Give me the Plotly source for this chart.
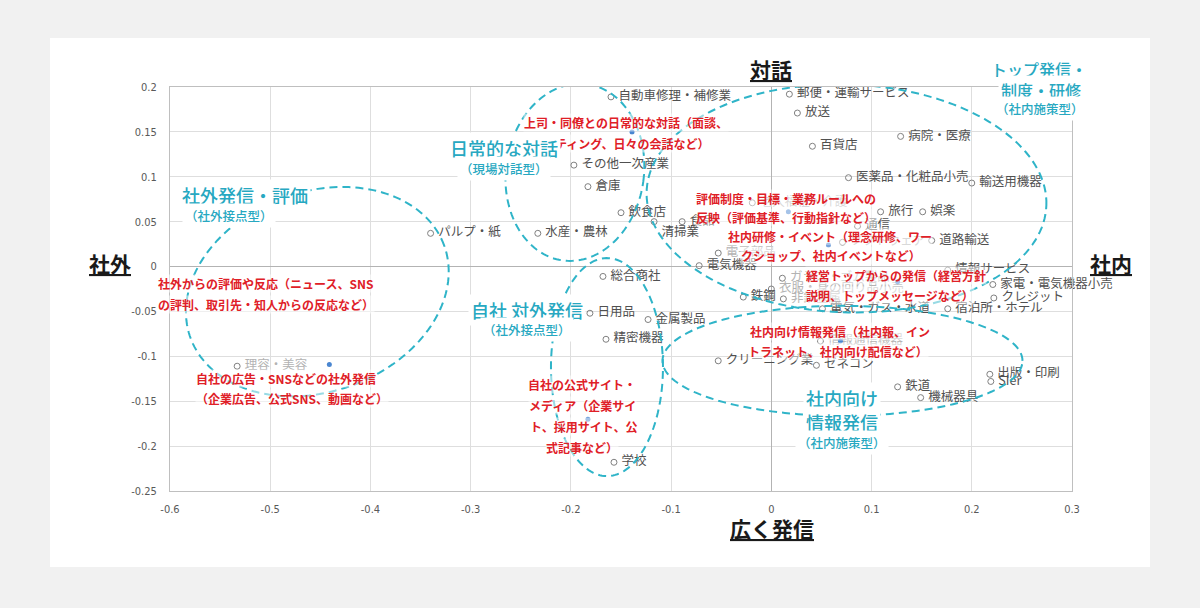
import numpy as np
import plotly.graph_objects as go

# ---------------- data ----------------
ind_names = [
    "自動車修理・補修業", "郵便・運輸サービス", "放送", "病院・医療", "百貨店",
    "その他一次産業", "医薬品・化粧品小売", "輸送用機器", "倉庫", "老人福祉・介護",
    "旅行", "娯楽", "飲食店", "清掃業", "食品", "通信", "パルプ・紙", "水産・農林",
    "道路輸送", "ソフトウェア", "電子部品", "電気機器", "情報サービス", "ガラス・ゴム製品",
    "総合商社", "家電・電気機器小売", "衣服・身の回り品小売", "鉄鋼", "非鉄金属", "クレジット",
    "電気・ガス・水道", "宿泊所・ホテル", "日用品", "金属製品", "精密機器", "情報通信機器",
    "クリーニング業", "ゼネコン", "理容・美容", "出版・印刷", "SIer", "鉄道", "機械器具", "学校",
]
ind_x = [
    -0.160, 0.018, 0.026, 0.129, 0.041,
    -0.197, 0.077, 0.200, -0.183, -0.019,
    0.109, 0.151, -0.150, -0.117, -0.089, 0.086, -0.340, -0.233,
    0.160, 0.071, -0.053, -0.072, 0.176, 0.011,
    -0.168, 0.221, 0.000, -0.028, 0.012, 0.222,
    0.051, 0.176, -0.181, -0.123, -0.165, 0.049,
    -0.053, 0.045, -0.533, 0.218, 0.219, 0.126, 0.149, -0.157,
]
ind_y = [
    0.189, 0.192, 0.171, 0.145, 0.134,
    0.113, 0.099, 0.093, 0.089, 0.071,
    0.061, 0.061, 0.060, 0.050, 0.050, 0.045, 0.037, 0.037,
    0.029, 0.027, 0.015, 0.001, -0.004, -0.013,
    -0.011, -0.020, -0.025, -0.034, -0.036, -0.035,
    -0.047, -0.047, -0.052, -0.059, -0.081, -0.083,
    -0.105, -0.110, -0.111, -0.120, -0.128, -0.134, -0.146, -0.218,
]
faint_names = ["老人福祉・介護", "ソフトウェア", "電子部品", "ガラス・ゴム製品",
               "衣服・身の回り品小売", "非鉄金属", "情報通信機器", "理容・美容"]

act_names = ["上司・同僚との日常的な対話", "評価制度・目標・業務ルール", "社内研修・イベント",
             "経営トップからの発信", "社内向け情報発信", "自社の広告・SNS", "自社の公式サイト・メディア"]
act_x = [-0.139, 0.017, 0.057, 0.126, 0.069, -0.441, -0.183]
act_y = [0.150, 0.061, 0.024, -0.017, -0.083, -0.109, -0.170]

x_ticks = [-0.6, -0.5, -0.4, -0.3, -0.2, -0.1, 0, 0.1, 0.2, 0.3]
x_ticktext = ["-0.6", "-0.5", "-0.4", "-0.3", "-0.2", "-0.1", "0", "0.1", "0.2", "0.3"]
y_ticks = [-0.25, -0.2, -0.15, -0.1, -0.05, 0, 0.05, 0.1, 0.15, 0.2]
y_ticktext = ["-0.25", "-0.2", "-0.15", "-0.1", "-0.05", "0", "0.05", "0.1", "0.15", "0.2"]

# ---------------- layout geometry ----------------
W, H = 1200, 608
ML, MR, MT, MB = 170, 128, 87, 117
PW, PH = W - ML - MR, H - MT - MB
XR = [-0.6, 0.3]
YR = [-0.25, 0.2]
SX = (XR[1] - XR[0]) / PW
SY = (YR[1] - YR[0]) / PH

JP = "Noto Sans CJK JP, Noto Sans, sans-serif"
TEAL = "#27a8c1"
ELL = "#2fb4c8"
RED = "#df2027"


def P(px, py):
    return (px - ML) / PW, (H - MB - py) / PH


def ellipse_path(cx, cy, a, b, theta):
    t = np.linspace(0, 2 * np.pi, 160)
    th = np.radians(theta)
    dx = a * np.cos(t) * np.cos(th) - b * np.sin(t) * np.sin(th)
    dy = a * np.cos(t) * np.sin(th) + b * np.sin(t) * np.cos(th)
    xs = cx + dx * SX
    ys = cy + dy * SY
    pts = [f"{x:.5f},{y:.5f}" for x, y in zip(xs, ys)]
    return "M" + " L".join(pts) + " Z"


fig = go.Figure()

text_colors = ["#b3b3b3" if n in faint_names else "#505050" for n in ind_names]
text_pos = ["bottom right" if n == "清掃業" else "middle right" for n in ind_names]

fig.add_trace(go.Scatter(
    x=ind_x, y=ind_y, mode="markers+text", text=ind_names,
    texttemplate="\u00a0%{text}",
    textposition=text_pos,
    textfont=dict(family=JP, size=12.5, color=text_colors),
    marker=dict(symbol="circle-open", size=6, color="#808080", line=dict(width=1)),
    cliponaxis=False, hoverinfo="skip", showlegend=False,
))
fig.add_trace(go.Scatter(
    x=act_x, y=act_y, mode="markers", text=act_names,
    marker=dict(symbol="circle", size=5, color="#4a86d0"),
    cliponaxis=False, hoverinfo="skip", showlegend=False,
))

shapes = []
cx0, cy0 = P(50, 567)
cx1, cy1 = P(1150, 38)
shapes.append(dict(type="rect", xref="paper", yref="paper", x0=cx0, x1=cx1, y0=cy0, y1=cy1,
                   fillcolor="white", line=dict(width=0), layer="below"))

ellipses = [
    (-0.453, -0.028, 135, 100, 20),
    (-0.196, 0.105, 69, 89, -8),
    (0.075, 0.076, 200, 114, -2),
    (-0.164, -0.112, 56, 109, 0),
    (0.071, -0.105, 180, 55, 0),
]
for cx, cy, a, b, th in ellipses:
    shapes.append(dict(type="path", xref="x", yref="y", path=ellipse_path(cx, cy, a, b, th),
                       line=dict(color=ELL, width=2, dash="8px,5px"), layer="above"))

annotations = []
red_labels = [
    ("上司・同僚との日常的な対話（面談、", 626, 123, "center"),
    ("ミーティング、日々の会話など）", 620, 143, "center"),
    ("評価制度・目標・業務ルールへの", 695, 198, "left"),
    ("反映（評価基準、行動指針など）", 695, 218, "left"),
    ("社内研修・イベント（理念研修、ワー", 830, 236, "center"),
    ("クショップ、社内イベントなど）", 831, 255, "center"),
    ("経営トップからの発信（経営方針", 896, 275, "center"),
    ("説明、トップメッセージなど）", 890, 295, "center"),
    ("社外からの評価や反応（ニュース、SNS", 157, 283, "left"),
    ("の評判、取引先・知人からの反応など）", 157, 304, "left"),
    ("自社の広告・SNSなどの社外発信", 195, 378, "left"),
    ("（企業広告、公式SNS、動画など）", 195, 398, "left"),
    ("自社の公式サイト・", 582, 384, "center"),
    ("メディア（企業サイ", 582, 405, "center"),
    ("ト、採用サイト、公", 584, 426, "center"),
    ("式記事など）", 582, 447, "center"),
    ("社内向け情報発信（社内報、イン", 840, 331, "center"),
    ("トラネット、社内向け配信など）", 838, 351, "center"),
]
for txt, px, py, anc in red_labels:
    x, y = P(px, py)
    annotations.append(dict(xref="paper", yref="paper", x=x, y=y, text=f"<b>{txt}</b>",
                            showarrow=False, xanchor=anc, yanchor="middle",
                            font=dict(family=JP, size=12, color=RED),
                            bgcolor="rgba(255,255,255,0.5)", borderpad=0))

teal_labels = [
    ("社外発信・評価", 245, 195, 18),
    ("（社外接点型）", 229, 215, 12.5),
    ("日常的な対話", 504, 148, 18),
    ("（現場対話型）", 504, 168, 12.5),
    ("トップ発信・", 1039, 69, 16),
    ("制度・研修", 1041, 90, 16),
    ("（社内施策型）", 1040, 108, 12.5),
    ("自社 対外発信", 527, 310, 18),
    ("（社外接点型）", 527, 329, 12.5),
    ("社内向け", 842, 398, 18),
    ("情報発信", 842, 422, 18),
    ("（社内施策型）", 842, 442, 12.5),
]
for txt, px, py, sz in teal_labels:
    x, y = P(px, py)
    annotations.append(dict(xref="paper", yref="paper", x=x, y=y, text=txt,
                            showarrow=False, xanchor="center", yanchor="middle",
                            font=dict(family=JP, size=sz, color=TEAL, weight=500),
                            bgcolor="white", borderpad=2))

axis_titles = [("対話", 771, 69), ("広く発信", 772, 528), ("社外", 110, 263), ("社内", 1111, 263)]
for txt, px, py in axis_titles:
    x, y = P(px, py)
    annotations.append(dict(xref="paper", yref="paper", x=x, y=y, text=f"<b><u>{txt}</u></b>",
                            showarrow=False, xanchor="center", yanchor="middle",
                            font=dict(family=JP, size=21, color="#1a1a1a")))

TICKFONT = dict(family="Liberation Sans Narrow, DejaVu Sans Condensed, sans-serif", size=11, color="#595959")

fig.update_layout(
    width=W, height=H,
    margin=dict(l=ML, r=MR, t=MT, b=MB, pad=0),
    paper_bgcolor="#f1f1f1", plot_bgcolor="white",
    shapes=shapes, annotations=annotations,
    xaxis=dict(range=XR, tickvals=x_ticks, ticktext=x_ticktext, tickfont=TICKFONT,
               showgrid=True, gridcolor="#dedede", gridwidth=1,
               zeroline=True, zerolinecolor="#b3b3b3", zerolinewidth=1,
               showline=True, linecolor="#bfbfbf", linewidth=1, mirror=True,
               ticks="", ticklabelstandoff=8, fixedrange=True),
    yaxis=dict(range=YR, tickvals=y_ticks, ticktext=y_ticktext, tickfont=TICKFONT,
               showgrid=True, gridcolor="#dedede", gridwidth=1,
               zeroline=True, zerolinecolor="#b3b3b3", zerolinewidth=1,
               showline=True, linecolor="#bfbfbf", linewidth=1, mirror=True,
               ticks="", ticklabelstandoff=10, fixedrange=True),
    showlegend=False,
)

fig.write_html("out.html")
